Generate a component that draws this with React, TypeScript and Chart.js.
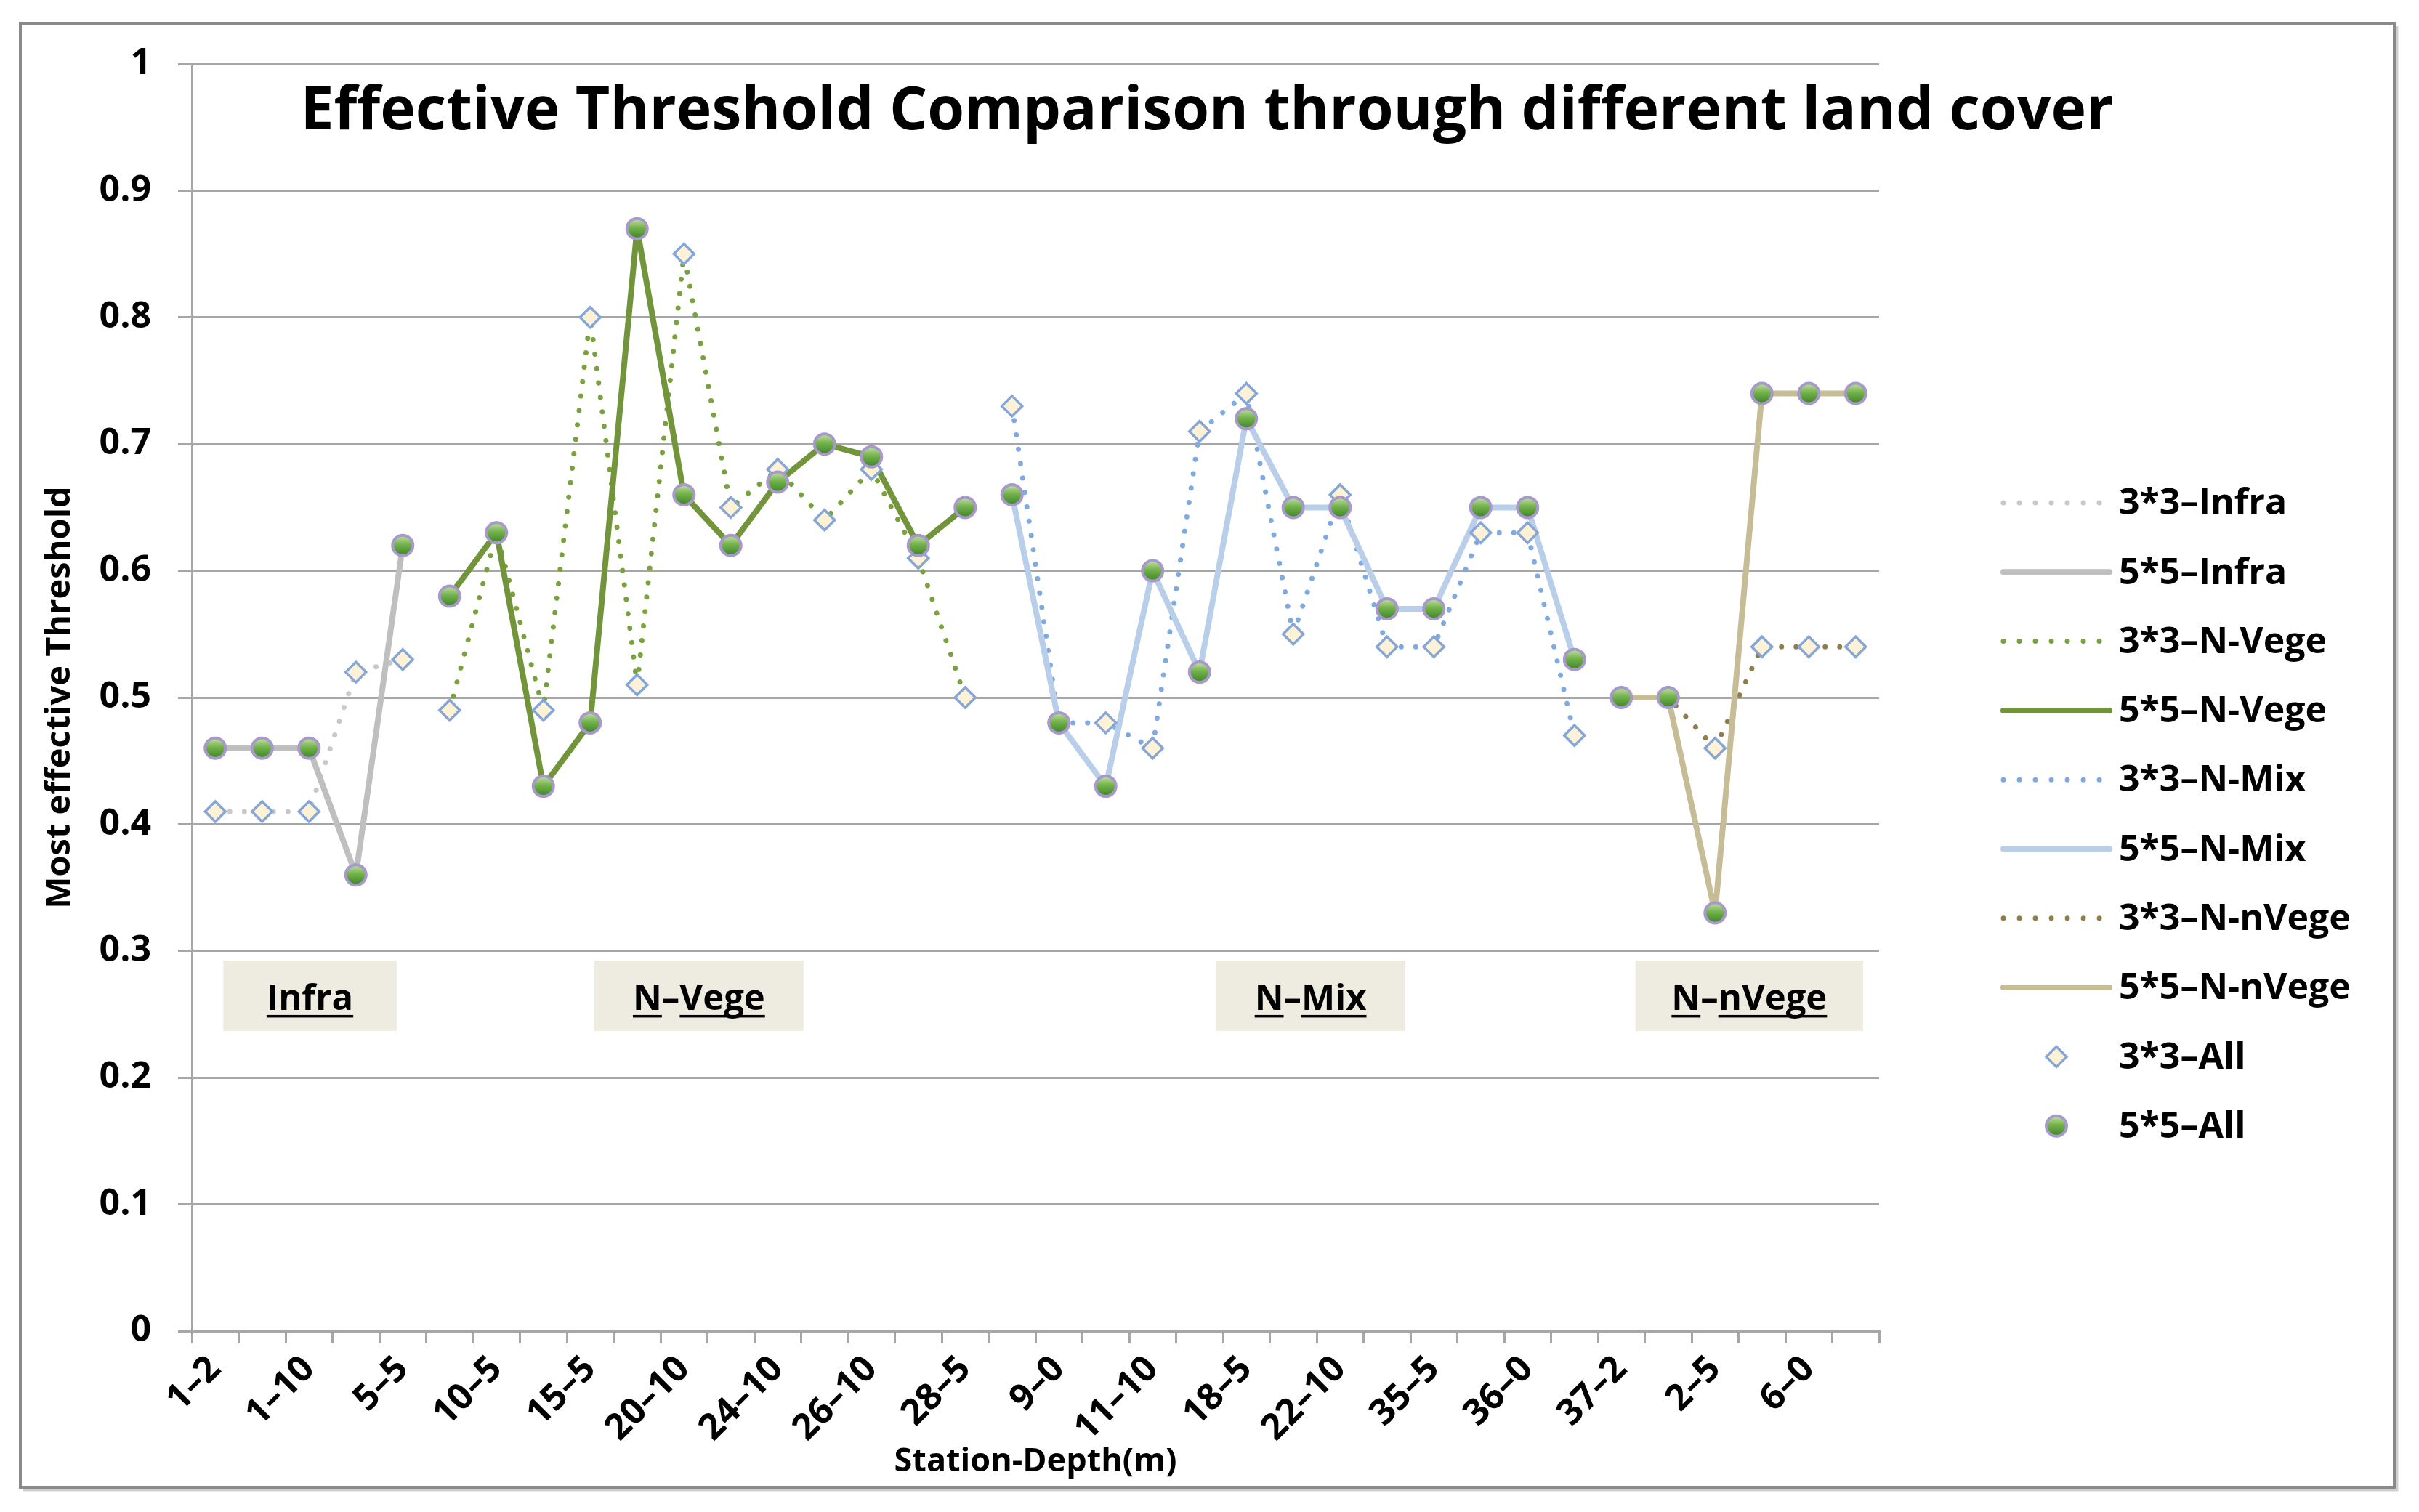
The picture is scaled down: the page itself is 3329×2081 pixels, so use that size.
import React, { useEffect, useRef } from 'react';
import { Chart, registerables } from 'chart.js';

Chart.register(...registerables);

// ---------- data ----------
const infraCats = ['1–2', '1–5', '1–10', '5–2', '5–5'];
const vegeCats = ['10–2', '10–5', '10–10', '15–5', '15–10', '20–10', '24–5', '24–10', '26–5', '26–10', '28–2', '28–5'];
const mixCats = ['7–5', '9–0', '9–5', '11–10', '18–2', '18–5', '22–5', '22–10', '35–2', '35–5', '35–10', '36–0', '36–5'];
const nvegeCats = ['37–2', '37–5', '2–5', '2–10', '6–0', '6–5'];

const infra3 = [0.41, 0.41, 0.41, 0.52, 0.53];
const infra5 = [0.46, 0.46, 0.46, 0.36, 0.62];
const vege3 = [0.49, 0.63, 0.49, 0.80, 0.51, 0.85, 0.65, 0.68, 0.64, 0.68, 0.61, 0.50];
const vege5 = [0.58, 0.63, 0.43, 0.48, 0.87, 0.66, 0.62, 0.67, 0.70, 0.69, 0.62, 0.65];
const mix3 = [0.73, 0.48, 0.48, 0.46, 0.71, 0.74, 0.55, 0.66, 0.54, 0.54, 0.63, 0.63, 0.47];
const mix5 = [0.66, 0.48, 0.43, 0.60, 0.52, 0.72, 0.65, 0.65, 0.57, 0.57, 0.65, 0.65, 0.53];
const nvege3 = [0.50, 0.50, 0.46, 0.54, 0.54, 0.54];
const nvege5 = [0.50, 0.50, 0.33, 0.74, 0.74, 0.74];

const groupNames = ['Infra', 'N–Vege', 'N–Mix', 'N–nVege'];
const yTicks = [0, 0.1, 0.2, 0.3, 0.4, 0.5, 0.6, 0.7, 0.8, 0.9, 1];

const TITLE = 'Effective Threshold Comparison through different land cover';
const X_TITLE = 'Station-Depth(m)';
const Y_TITLE = 'Most effective Threshold';

// ---------- derived ----------
const categories = [...infraCats, ...vegeCats, ...mixCats, ...nvegeCats];
const total = categories.length;
const offsets = [0, infraCats.length, infraCats.length + vegeCats.length, infraCats.length + vegeCats.length + mixCats.length];

function place(values: number[], offset: number) {
  const arr: (number | null)[] = new Array(total).fill(null);
  values.forEach((v, i) => { arr[offset + i] = v; });
  return arr;
}

const all3 = [...infra3, ...vege3, ...mix3, ...nvege3];
const all5 = [...infra5, ...vege5, ...mix5, ...nvege5];

// annotation box extents (in category units) and y band
const boxSpans = [[0.17, 3.87], [8.09, 12.55], [21.35, 25.39], [30.3, 35.16]];
const boxBand = [0.2368, 0.2924];

const FONT = '"Open Sans", "Noto Sans", sans-serif';
const GRID = '#a6a6a6';
const DOT = [0.01, 20];

function lineDs(label: string, data: (number | null)[], color: string, dotted: boolean, order: number) {
  return {
    label,
    data,
    borderColor: color,
    backgroundColor: color,
    borderWidth: dotted ? 7 : 8,
    borderDash: dotted ? DOT : [],
    borderCapStyle: 'round',
    borderJoinStyle: 'round',
    pointRadius: 0,
    pointHoverRadius: 0,
    spanGaps: false,
    tension: 0,
    fill: false,
    order,
    _dotted: dotted,
  } as any;
}

function greenGradient(ctx: CanvasRenderingContext2D, cy: number, r: number) {
  const g = ctx.createLinearGradient(0, cy - r, 0, cy + r);
  g.addColorStop(0, '#c3e3a6');
  g.addColorStop(0.45, '#74b24c');
  g.addColorStop(1, '#3c8526');
  return g;
}

const DIAMOND_BORDER = '#86a6d8';
const DIAMOND_FILL = '#fdf1d6';
const CIRCLE_BORDER = '#a898cc';

const datasets: any[] = [
  lineDs('3*3–Infra', place(infra3, offsets[0]), '#c8c8c8', true, 10),
  lineDs('5*5–Infra', place(infra5, offsets[0]), '#bfbfbf', false, 9),
  lineDs('3*3–N-Vege', place(vege3, offsets[1]), '#79a23d', true, 8),
  lineDs('5*5–N-Vege', place(vege5, offsets[1]), '#72943a', false, 7),
  lineDs('3*3–N-Mix', place(mix3, offsets[2]), '#7ea9e1', true, 6),
  lineDs('5*5–N-Mix', place(mix5, offsets[2]), '#b9cfe9', false, 5),
  lineDs('3*3–N-nVege', place(nvege3, offsets[3]), '#8e7f4a', true, 4),
  lineDs('5*5–N-nVege', place(nvege5, offsets[3]), '#c6bd97', false, 3),
  {
    label: '3*3–All',
    data: all3,
    showLine: false,
    pointStyle: 'rectRot',
    pointRadius: 14,
    pointHoverRadius: 14,
    pointBorderWidth: 3.5,
    pointBorderColor: DIAMOND_BORDER,
    pointBackgroundColor: DIAMOND_FILL,
    borderColor: DIAMOND_BORDER,
    backgroundColor: DIAMOND_FILL,
    order: 2,
    _marker: 'diamond',
  },
  {
    label: '5*5–All',
    data: all5,
    showLine: false,
    pointStyle: 'circle',
    pointRadius: 14,
    pointHoverRadius: 14,
    pointBorderWidth: 4,
    pointBorderColor: CIRCLE_BORDER,
    borderColor: CIRCLE_BORDER,
    backgroundColor: '#6aa844',
    pointBackgroundColor: (c: any) => {
      const ys = c.chart && c.chart.scales && c.chart.scales.y;
      if (!ys || c.type !== 'data' || c.raw == null) return '#6aa844';
      const py = ys.getPixelForValue(c.raw);
      if (!Number.isFinite(py)) return '#6aa844';
      return greenGradient(c.chart.ctx, py, 14);
    },
    order: 1,
    _marker: 'circle',
  },
];

// ---------- plugin for frame, title, group boxes and legend ----------
const decorPlugin = {
  id: 'decor',
  beforeDraw(chart: any) {
    const { ctx, width, height } = chart;
    ctx.save();
    ctx.fillStyle = '#ffffff';
    ctx.fillRect(0, 0, width, height);
    ctx.strokeStyle = '#d0d0d0';
    ctx.lineWidth = 3;
    ctx.beginPath();
    ctx.moveTo(32, 2051);
    ctx.lineTo(3299, 2051);
    ctx.lineTo(3299, 36);
    ctx.stroke();
    ctx.strokeStyle = '#8a8a8a';
    ctx.lineWidth = 4;
    ctx.strokeRect(28, 32, 3267, 2015);
    ctx.restore();
  },
  beforeDatasetsDraw(chart: any) {
    const { ctx } = chart;
    const xs = chart.scales.x;
    const ys = chart.scales.y;
    const x0 = xs.getPixelForValue(0);
    const step = xs.getPixelForValue(1) - x0;
    const top = ys.getPixelForValue(boxBand[1]);
    const bottom = ys.getPixelForValue(boxBand[0]);
    ctx.save();
    groupNames.forEach((name, i) => {
      const left = x0 + boxSpans[i][0] * step;
      const right = x0 + boxSpans[i][1] * step;
      ctx.fillStyle = '#eeece1';
      ctx.fillRect(left, top, right - left, bottom - top);
      ctx.font = `bold 49px ${FONT}`;
      ctx.fillStyle = '#000';
      ctx.textBaseline = 'alphabetic';
      ctx.textAlign = 'left';
      const w = ctx.measureText(name).width;
      const cx = (left + right) / 2;
      const baseY = top + (bottom - top) * 0.7;
      const startX = cx - w / 2;
      ctx.fillText(name, startX, baseY);
      const parts = name.split('–');
      let px = startX;
      const dashW = ctx.measureText('–').width;
      parts.forEach((p, k) => {
        const pw = ctx.measureText(p).width;
        ctx.fillRect(px, baseY + 7, pw, 3.5);
        px += pw + (k < parts.length - 1 ? dashW : 0);
      });
    });
    ctx.restore();
  },
  afterDraw(chart: any) {
    const { ctx, chartArea } = chart;
    ctx.save();
    ctx.font = `bold 82px ${FONT}`;
    ctx.fillStyle = '#000';
    ctx.textAlign = 'center';
    ctx.textBaseline = 'alphabetic';
    const tw = ctx.measureText(TITLE).width;
    ctx.translate(1661, 178);
    ctx.scale(2495 / tw, 1);
    ctx.fillText(TITLE, 0, 0);
    ctx.restore();

    ctx.save();
    const lx0 = chartArea.right + 171;
    const lx1 = chartArea.right + 317;
    const tx = chartArea.right + 330;
    chart.data.datasets.forEach((ds: any, i: number) => {
      const yy = chartArea.top + 604 + i * 95.3;
      if (ds._marker === 'diamond') {
        const cx = (lx0 + lx1) / 2;
        const r = 14;
        ctx.beginPath();
        ctx.moveTo(cx, yy - r);
        ctx.lineTo(cx + r, yy);
        ctx.lineTo(cx, yy + r);
        ctx.lineTo(cx - r, yy);
        ctx.closePath();
        ctx.fillStyle = DIAMOND_FILL;
        ctx.fill();
        ctx.lineWidth = 3.5;
        ctx.strokeStyle = DIAMOND_BORDER;
        ctx.stroke();
      } else if (ds._marker === 'circle') {
        const cx = (lx0 + lx1) / 2;
        ctx.beginPath();
        ctx.arc(cx, yy, 14, 0, Math.PI * 2);
        ctx.fillStyle = greenGradient(ctx, yy, 14);
        ctx.fill();
        ctx.lineWidth = 4;
        ctx.strokeStyle = CIRCLE_BORDER;
        ctx.stroke();
      } else {
        ctx.beginPath();
        ctx.lineCap = 'round';
        ctx.strokeStyle = ds.borderColor;
        if (ds._dotted) {
          ctx.lineWidth = 7;
          ctx.setLineDash([0.01, 22]);
          ctx.moveTo(lx0, yy);
          ctx.lineTo(lx0 + 22 * 6 + 1, yy);
        } else {
          ctx.lineWidth = 8;
          ctx.setLineDash([]);
          ctx.moveTo(lx0, yy);
          ctx.lineTo(lx1, yy);
        }
        ctx.stroke();
        ctx.setLineDash([]);
      }
      ctx.font = `bold 50px ${FONT}`;
      ctx.fillStyle = '#000';
      ctx.textAlign = 'left';
      ctx.textBaseline = 'middle';
      ctx.fillText(ds.label, tx, yy + 2);
    });
    ctx.restore();
  },
};

export default function App() {
  const ref = useRef<HTMLCanvasElement>(null);
  useEffect(() => {
    if (!ref.current) return;
    const chart = new Chart(ref.current, {
      type: 'line',
      data: { labels: categories, datasets },
      options: {
        animation: false,
        responsive: true,
        maintainAspectRatio: false,
        layout: { padding: { left: 46, top: 88, right: 743, bottom: 33 } },
        plugins: {
          legend: { display: false },
          title: { display: false },
          tooltip: { enabled: false },
        },
        scales: {
          x: {
            type: 'category',
            offset: true,
            afterFit: (s: any) => { s.height = 216; },
            grid: {
              display: true,
              drawOnChartArea: false,
              drawTicks: true,
              tickLength: 17,
              offset: true,
              color: GRID,
              lineWidth: 3,
            },
            border: { display: true, color: GRID, width: 3 },
            ticks: {
              autoSkip: false,
              maxRotation: 45,
              minRotation: 45,
              padding: 6,
              color: '#000',
              font: { family: FONT, size: 50, weight: 'bold' },
              callback: (_v: any, i: number) => (i % 2 === 0 ? categories[i] : ''),
            },
            title: {
              display: true,
              text: X_TITLE,
              color: '#000',
              font: { family: FONT, size: 45, weight: 'bold' },
              padding: { top: 0, bottom: 9 },
            },
          },
          y: {
            min: 0,
            max: 1,
            afterFit: (s: any) => { s.width = 218; },
            afterBuildTicks: (s: any) => { s.ticks = yTicks.map((v) => ({ value: v })); },
            grid: {
              color: GRID,
              lineWidth: 3,
              tickLength: 19,
              drawTicks: true,
            },
            border: { display: true, color: GRID, width: 3 },
            ticks: {
              padding: 37,
              color: '#000',
              font: { family: FONT, size: 50, weight: 'bold' },
              callback: (v: any) => String(Math.round(Number(v) * 10) / 10),
            },
            title: {
              display: true,
              text: Y_TITLE,
              color: '#000',
              font: { family: FONT, size: 47, weight: 'bold' },
              padding: { top: 8, bottom: 0 },
            },
          },
        },
      },
      plugins: [decorPlugin],
    } as any);
    return () => chart.destroy();
  }, []);
  return (
    <div style={{ position: 'fixed', left: 0, top: 0, width: 3329, height: 2081 }}>
      <canvas ref={ref} />
    </div>
  );
}
